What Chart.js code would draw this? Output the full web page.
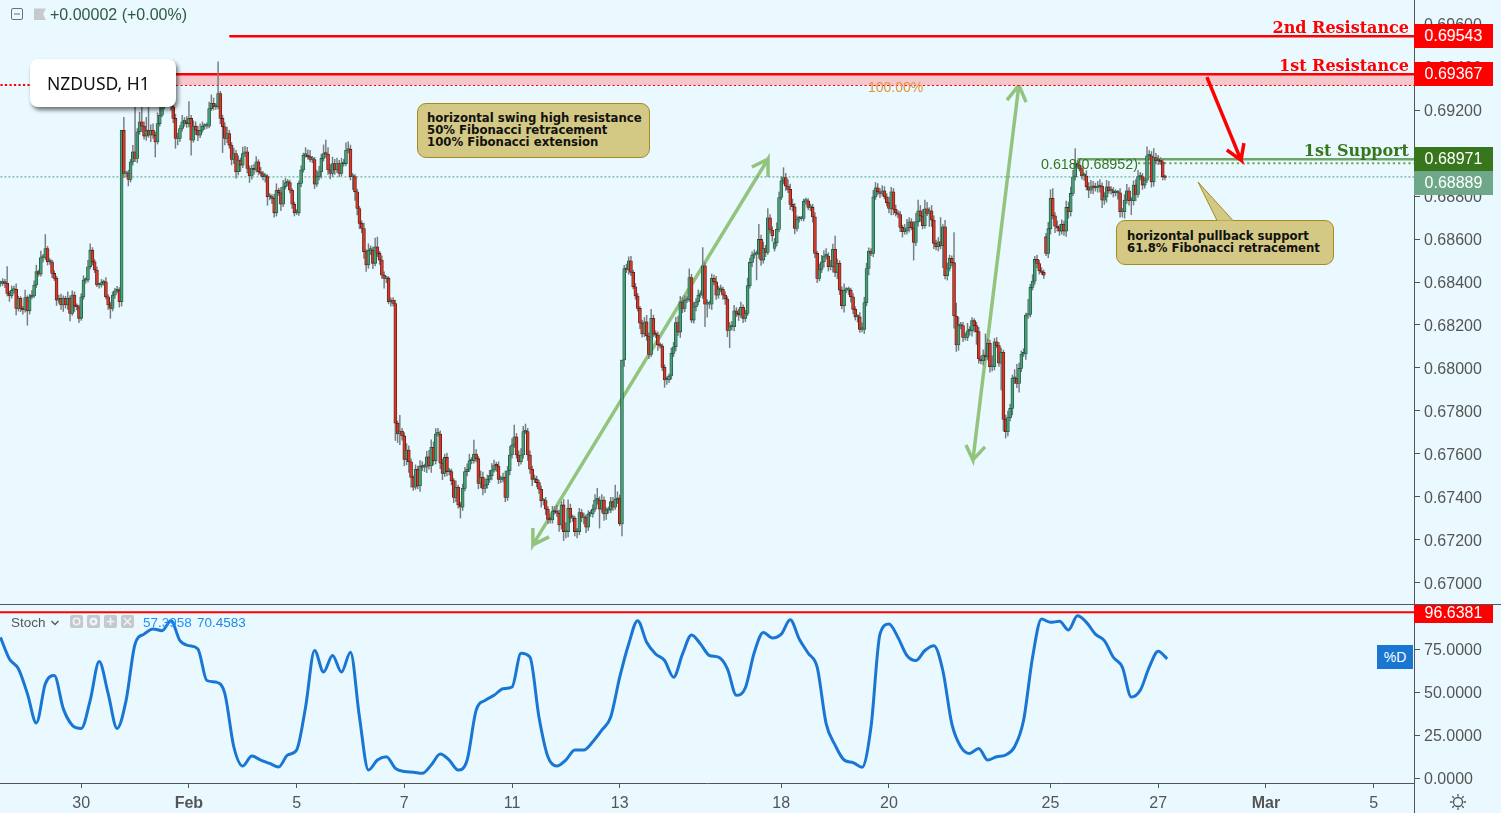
<!DOCTYPE html>
<html>
<head>
<meta charset="utf-8">
<title>NZDUSD, H1</title>
<script src="https://cdn.jsdelivr.net/npm/chart.js@4/dist/chart.umd.min.js"></script>
<style>
  html, body { margin: 0; padding: 0; background: #e9f9ff; overflow: hidden; }
  #stage { position: relative; width: 1501px; height: 813px; font-family: "Liberation Sans", Arial, sans-serif; }
  canvas { position: absolute; left: 0; }
  #priceChart { top: 0; }
  #stochChart { top: 604px; }
  .abs { position: absolute; white-space: nowrap; }
  .tag { position: absolute; left: 1414px; width: 79px; height: 24px; line-height: 24px; text-align: center; color: #fff; font-size: 16px; }
  .level { position: absolute; right: 92px; font: bold 16px "DejaVu Serif", serif; white-space: nowrap; }
  .callout { position: absolute; box-sizing: border-box; background: #d4c885; border: 1px solid #a58b1e; border-radius: 9px; color: #111;
             font: bold 11.7px/12px "DejaVu Sans", sans-serif; padding-left: 9px; white-space: pre; }
  .tail { position: absolute; }
  .rule { position: absolute; background: #555; }
  #nameBox { left: 30px; top: 59px; width: 146px; height: 48px; box-sizing: border-box; padding-left: 17px; background: #fff; border-radius: 8px;
             font: 17.5px/48px "Noto Sans", sans-serif; color: #111; box-shadow: 2px 3px 4px rgba(0,0,0,.55); }
</style>
</head>
<body>
<div id="stage">
  <canvas id="priceChart" width="1501" height="604"></canvas>
  <canvas id="stochChart" width="1501" height="209"></canvas>

  <div class="rule" style="left:0;top:604px;width:1501px;height:1px"></div>
  <div class="rule" style="left:1414px;top:0;width:1px;height:813px"></div>

  <svg class="abs" style="left:10px;top:7px" width="40" height="15">
    <rect x="1.5" y="1.5" width="11" height="11" rx="1.5" fill="none" stroke="#6a7076"/>
    <line x1="4" y1="7" x2="10" y2="7" stroke="#6a7076"/>
    <path d="M24 1.5H36L33 7L36 13H24Z" fill="#c6cacd"/>
  </svg>
  <div class="abs" style="left:50px;top:6px;font-size:16px;color:#2d5a42">+0.00002 (+0.00%)</div>

  <div class="abs" id="nameBox">NZDUSD, H1</div>

  <div class="level" style="top:18px;color:#f00">2nd Resistance</div>
  <div class="level" style="top:56px;color:#f00">1st Resistance</div>
  <div class="level" style="top:141px;color:#38761d">1st Support</div>

  <div class="abs" style="left:868px;top:79px;font-size:14px;color:#e69138">100.00%</div>
  <div class="abs" style="left:1041px;top:156px;font-size:14.3px;color:#38761d">0.618(0.68952)</div>

  <div class="callout" style="left:417px;top:103px;width:233px;height:55px;padding-top:8px">horizontal swing high resistance
50% Fibonacci retracement
100% Fibonacci extension</div>

  <svg class="tail" style="left:1190px;top:175px" width="60" height="50">
    <path d="M8 7L27 45.5H43Z" fill="#d4c885" stroke="#a58b1e"/>
  </svg>
  <div class="callout" style="left:1116px;top:220px;width:218px;height:45px;padding-top:9px;padding-left:10px">horizontal pullback support
61.8% Fibonacci retracement</div>
  <svg class="tail" style="left:1190px;top:219px" width="60" height="4">
    <path d="M27 2.5H43" stroke="#d4c885" stroke-width="2"/>
  </svg>

  <div class="tag" style="top:24px;background:#f00">0.69543</div>
  <div class="tag" style="top:62px;background:#f00">0.69367</div>
  <div class="tag" style="top:147px;background:#38761d">0.68971</div>
  <div class="tag" style="top:171px;background:#6fa888">0.68889</div>
  <div class="tag" style="top:605px;height:18px;line-height:16px;background:#f00">96.6381</div>
  <div class="abs" style="left:1377px;top:645px;width:36px;height:24px;line-height:24px;text-align:center;background:#1976d2;color:#fff;font-size:14px">%D</div>

  <div class="abs" style="left:11px;top:615px;font-size:13.5px;color:#555">Stoch</div>
  <svg class="abs" style="left:50px;top:619px" width="10" height="8"><path d="M1.5 2L5 5.5L8.5 2" fill="none" stroke="#555" stroke-width="1.3"/></svg>
  <svg class="abs" style="left:70px;top:615px" width="65" height="13">
    <g fill="#c4c9cc"><rect width="13" height="13" rx="2"/><rect x="17" width="13" height="13" rx="2"/><rect x="34" width="13" height="13" rx="2"/><rect x="51" width="13" height="13" rx="2"/></g>
    <g fill="none" stroke="#eef4f6" stroke-width="1.6">
      <circle cx="6.5" cy="6.5" r="3.2"/><circle cx="23.5" cy="6.5" r="2.8" stroke-width="2.4"/>
      <path d="M40.5 2.5V10.500M36.500 6.500H44.500M54 3L61 10M61 3L54 10"/>
    </g>
  </svg>
  <div class="abs" style="left:143px;top:615px;font-size:13.5px;color:#1e90ff">57.3958</div>
  <div class="abs" style="left:197px;top:615px;font-size:13.5px;color:#1e88e5">70.4583</div>

  <svg class="abs" style="left:1449px;top:793px" width="18" height="18">
    <circle cx="9" cy="9" r="4.5" fill="none" stroke="#555" stroke-width="1.3"/>
    <path d="M9 1V3.5M9 14.5V17M1 9H3.5M14.5 9H17M3.3 3.3L5 5M13 13L14.7 14.7M3.3 14.7L5 13M13 5L14.7 3.3" stroke="#555" stroke-width="1.3"/>
  </svg>
</div>

<script>
  /* ---------- Dados (preço em 0.00001) ---------- */
  const closes = [
    68394,68401,68394,68347,68335,68362,68366,68277,68324,68277,68270,68328,68266,68331,68335,68386,68448,68437,68514,68514,
    68556,68494,68494,68440,68417,68316,68324,68293,68324,68293,68324,68254,68339,68288,68285,68231,68331,68409,68409,68471,
    68548,68494,68456,68386,68386,68397,68401,68331,68293,68277,68339,68359,68362,68308,69106,68905,68905,68877,68959,69006,
    68975,69099,69145,69125,69079,69106,69083,69106,69083,69052,69137,69176,69215,69246,69261,69269,69215,69161,69068,69068,
    69114,69145,69145,69137,69161,69060,69125,69106,69083,69106,69125,69125,69125,69207,69231,69215,69215,69277,69161,69122,
    69068,69091,69037,68970,68998,68913,68967,68944,68998,69006,68928,68893,68928,68921,68959,68913,68905,68890,68890,68797,
    68797,68789,68722,68827,68815,68762,68843,68862,68862,68827,68762,68722,68722,68859,68921,68990,68990,68983,68970,68970,
    68855,68890,68913,68975,68998,68995,68921,68905,68951,68921,68951,68905,68951,68951,69013,69017,68890,68890,68820,68742,
    68673,68649,68541,68479,68548,68548,68487,68564,68533,68502,68432,68417,68417,68308,68316,68300,67743,67693,67707,67684,
    67575,67618,67564,67491,67445,67529,67451,67544,67538,67538,67587,67544,67631,67569,67693,67693,67557,67510,67584,67518,
    67518,67476,67398,67445,67363,67352,67440,67518,67529,67569,67569,67600,67578,67463,67491,67440,67456,67482,67499,67525,
    67546,67544,67482,67482,67491,67398,67522,67595,67642,67680,67595,67564,67595,67704,67704,67595,67529,67482,67482,67467,
    67436,67383,67383,67343,67296,67293,67332,67336,67324,67270,67363,67239,67239,67347,67301,67301,67239,67239,67327,67305,
    67305,67259,67321,67321,67343,67386,67386,67343,67386,67321,67339,67339,67378,67352,67389,67394,67274,68037,68463,68456,
    68499,68445,68378,68335,68277,68208,68158,68215,68149,68063,68231,68161,68153,68107,68102,68003,67944,67944,67963,68068,
    68099,68211,68167,68308,68277,68316,68319,68421,68223,68285,68308,68339,68339,68475,68297,68297,68297,68417,68401,68339,
    68366,68366,68339,68321,68175,68192,68192,68266,68254,68246,68282,68231,68254,68383,68491,68525,68530,68530,68598,68502,
    68556,68538,68699,68642,68614,68583,68645,68793,68871,68886,68846,68831,68761,68750,68649,68693,68696,68696,68776,68778,
    68747,68747,68703,68533,68417,68459,68494,68521,68521,68471,68471,68552,68445,68487,68362,68290,68362,68362,68362,68331,
    68273,68238,68238,68180,68180,68304,68463,68544,68533,68796,68838,68820,68812,68824,68796,68769,68742,68820,68738,68722,
    68714,68654,68634,68638,68652,68680,68652,68584,68680,68731,68707,68662,68741,68719,68731,68688,68580,68564,68587,68569,
    68657,68429,68463,68510,68490,68242,68107,68197,68197,68142,68142,68173,68173,68220,68197,68169,68042,68034,68060,68052,
    68115,68006,68006,68122,68104,68022,68073,67761,67704,67769,67812,67952,67952,67928,67998,68065,68065,68246,68249,68375,
    68404,68505,68486,68452,68445,68432,68533,68648,68789,68708,68660,68652,68637,68669,68637,68747,68727,68812,68889,68951,
    68944,68928,68893,68893,68843,68827,68843,68840,68838,68843,68846,68781,68796,68843,68824,68824,68815,68815,68815,68727,
    68727,68781,68824,68778,68778,68851,68807,68890,68890,68851,68874,68987,68987,68866,68979,68964,68964,68959,68890,68887
  ];
  // abertura = fechamento anterior, exceto nos gaps
  const gapOpenBars = [345, 466];
  const gapOpenValues = [68556, 68611];
  const upperWicks = [
    10,15,12,78,10,20,15,25,10,8,10,35,8,12,25,20,30,8,30,15,
    65,10,15,8,12,10,15,20,12,10,30,12,20,15,10,8,15,20,10,30,
    30,12,10,15,8,15,8,20,10,12,15,12,18,12,0,60,10,15,12,30,
    209,15,45,90,20,60,108,25,30,15,50,60,40,20,20,10,20,15,20,25,
    15,30,20,25,78,15,25,20,20,30,20,12,15,30,40,25,15,147,10,15,
    20,30,15,12,25,15,20,10,30,25,20,12,15,20,25,10,20,10,15,10,
    15,10,20,30,10,25,30,20,15,12,8,10,15,12,20,10,35,25,30,15,
    10,30,25,20,40,62,30,25,30,20,25,15,25,20,35,35,20,15,10,12,
    10,12,25,10,30,20,15,40,45,10,20,15,10,8,10,12,15,10,73,12,
    15,30,20,12,8,20,15,25,20,15,25,30,35,25,25,26,15,20,15,20,
    15,12,10,30,10,12,20,20,25,30,15,65,20,10,30,25,30,20,25,30,
    25,15,20,15,20,30,20,40,30,54,15,20,30,25,35,15,20,15,20,15,
    12,15,10,15,12,10,25,20,25,15,15,25,42,40,20,15,10,15,20,15,
    20,12,15,15,20,25,54,15,25,15,10,15,20,20,66,30,15,0,15,20,
    18,20,10,15,12,10,15,20,30,15,42,15,12,15,10,10,12,15,10,25,
    20,25,30,25,20,20,15,40,15,20,15,25,20,85,15,20,15,20,15,25,
    15,20,10,15,10,20,25,25,15,20,25,12,15,35,20,15,20,15,70,20,
    30,15,43,15,15,20,30,25,20,46,20,30,25,25,15,15,10,10,10,12,
    10,15,15,20,10,25,30,25,35,15,30,25,62,20,12,15,30,12,15,10,
    15,12,10,20,30,25,25,15,12,30,25,20,15,25,20,15,25,20,15,20,
    10,15,10,30,40,20,15,30,40,50,25,30,40,30,15,25,20,15,20,113,
    10,30,25,15,12,140,60,40,15,15,20,35,20,15,10,15,20,15,25,98,
    20,15,50,15,20,15,20,10,20,30,20,15,40,65,25,15,25,10,70,15,
    30,15,20,15,15,10,15,30,40,46,15,25,15,20,15,30,25,30,30,70,
    15,20,10,15,25,20,30,25,20,25,30,15,20,30,25,20,15,15,12,20,
    15,25,30,15,15,20,25,30,20,15,12,42,25,20,42,20,25,15,12,8
  ];
  const lowerWicks = [
    15,10,20,12,25,10,15,30,12,15,20,10,67,15,10,8,12,10,10,20,
    10,15,12,20,10,25,15,20,30,15,20,35,10,25,15,20,10,12,15,10,
    10,15,12,8,15,10,12,10,20,46,12,15,10,25,20,20,15,30,12,15,
    15,20,12,25,15,20,10,30,15,70,10,12,8,10,8,10,15,20,46,30,
    15,12,20,18,15,70,10,20,25,12,10,15,10,8,10,15,12,10,25,120,
    30,20,15,25,20,30,15,30,12,15,20,30,15,20,10,15,12,15,25,40,
    15,25,20,15,12,30,12,10,15,12,20,15,8,12,15,10,10,12,10,15,
    20,10,15,30,12,15,20,25,15,20,12,15,10,12,10,12,15,60,40,30,
    25,20,30,30,15,20,25,12,15,20,15,46,20,10,20,12,80,40,50,20,
    30,25,50,45,15,10,12,25,15,20,25,15,30,20,15,10,25,30,15,20,
    15,20,25,20,15,50,15,12,20,10,15,12,15,25,20,30,20,15,15,20,
    10,25,20,15,12,20,15,20,15,12,15,20,12,15,10,25,20,30,15,20,
    20,30,20,25,20,15,15,12,15,30,20,42,30,25,20,15,20,30,15,20,
    30,25,15,12,15,10,20,88,15,30,25,15,12,15,10,20,8,55,30,12,
    20,15,10,15,12,25,15,12,20,20,10,15,12,25,10,15,34,20,12,15,
    15,20,15,25,20,15,12,10,12,15,20,15,10,15,105,60,20,25,15,20,
    15,12,20,25,30,80,15,20,15,25,12,20,15,10,12,20,15,120,20,25,
    15,20,10,15,25,12,15,12,10,15,20,15,25,20,25,12,15,10,12,15,
    10,15,25,20,20,12,15,25,15,20,15,25,20,30,20,15,30,12,20,25,
    20,15,25,15,12,20,15,30,10,15,12,15,20,12,10,15,20,30,25,15,
    15,20,25,12,15,20,10,82,15,20,25,15,12,10,60,30,25,15,20,15,
    102,15,20,12,15,57,30,25,15,20,12,15,20,25,30,59,20,15,20,15,
    15,25,20,15,10,15,124,55,30,20,15,30,25,20,40,15,12,25,15,12,
    12,15,20,15,10,15,10,20,25,15,30,15,20,15,20,25,30,20,10,15,
    15,12,15,20,15,35,15,30,15,20,25,35,20,25,12,15,20,15,30,25,
    25,30,15,20,65,20,30,12,15,20,15,12,15,25,20,15,18,12,15,12
  ];

  // %D lido a cada 4 barras
  const stochEvery = 4;
  const stochD = [
    82.1,69.6,63.9,49.5,32.5,55.2,60,40.8,31.2,29.3,45.6,68.1,49.5,29.3,45.6,78.3,84,87,86,91.8,
    80.2,77.3,75.4,57.1,56.2,49.5,18.7,7.5,13.3,11,9,7,13.9,16.8,41.8,74.5,62,71.6,62,73.5,
    36,5.2,11,12.9,6.2,4.3,3.9,3.3,8.1,14.5,11,5.2,11,39.8,45.6,48.5,52.3,53.3,72.9,70.6,
    36,12.9,7.5,11,16.8,16.8,21.6,28.3,36,59,78.3,91.8,79.3,72.5,68.7,59,72.5,83.5,78.3,71.6,
    70.6,63.9,48.5,52.9,73.5,85,81.8,84,92.3,81.2,72.9,64.8,32.1,19.6,11,9.5,6.8,30.2,84,89.8,
    82.1,71.6,68.7,74.5,77.3,62.9,32.1,18.7,14.8,17.7,11,12.9,13.9,18.7,34.1,70.6,92.7,90.8,91.4,86.4,
    94.6,90.8,84,80.2,70.6,64.8,47.5,51.4,64.8,74.1,69.6
  ];

  const priceTicks = [0.696,0.694,0.692,0.690,0.688,0.686,0.684,0.682,0.680,0.678,0.676,0.674,0.672,0.670];
  const stochTicks = [0,25,50,75];
  const dateTickBars = [36,84,132,180,228,276,348,396,468,516,564,612];
  const dateTickLabels = ['30','Feb','5','7','11','13','18','20','25','27','Mar','5'];

  const resistance2 = 0.69543, resistance1 = 0.69367, fib100 = 0.69316;
  const support1 = 0.68971, fib618 = 0.68952, lastPrice = 0.68889, stochLevel = 96.6381;

  // setas: [barra, preço]
  const redArrow = [[537.7,0.69353],[552.9,0.68967],[546.6,0.69014],[552.9,0.68967],[554.2,0.69046]];
  const greenArrowA = [[334.9,0.68935],[342.1,0.68972],[342.1,0.68888],[342.1,0.68972],[237.3,0.67177],[237.3,0.67256],[237.3,0.67177],[244.5,0.67214]];
  const greenArrowB = [[448.6,0.69246],[453.9,0.69316],[457.1,0.69237],[453.9,0.69316],[433.4,0.67572],[430.3,0.67642],[433.4,0.67572],[438.8,0.67633]];

  const LAST_BAR = 630;  // borda direita do painel

  /* ---------- Candles ---------- */
  const opens = closes.map((c, i) => {
    const g = gapOpenBars.indexOf(i);
    if (g >= 0) return gapOpenValues[g];
    return i ? closes[i - 1] : c;
  });
  const bodies = closes.map((c, i) => ({ x: i, y: [opens[i] / 1e5, c / 1e5] }));
  const wicks = closes.map((c, i) => ({
    x: i,
    y: [(Math.min(opens[i], c) - (lowerWicks[i] || 0)) / 1e5, (Math.max(opens[i], c) + (upperWicks[i] || 0)) / 1e5]
  }));
  const isUp = closes.map((c, i) => c >= opens[i]);

  function hLine(value, from, color, width, dash, offset) {
    return {
      type: 'line', order: 3, data: [{ x: from, y: value }, { x: LAST_BAR, y: value }],
      borderColor: color, borderWidth: width, borderDash: dash || [], borderDashOffset: offset || 0,
      pointRadius: 0, fill: false
    };
  }
  function arrow(points, color, order) {
    return {
      type: 'line', order, data: points.map(p => ({ x: p[0], y: p[1] })),
      borderColor: color, borderWidth: 3.5, borderJoinStyle: 'miter', pointRadius: 0, fill: false
    };
  }
  // sem margem extra para os rótulos: o painel ocupa toda a altura
  function noPadding(s) { s.paddingTop = s.paddingBottom = s.paddingLeft = s.paddingRight = 0; }

  const baseOptions = { responsive: false, animation: false, devicePixelRatio: 1, events: [],
    plugins: { legend: { display: false }, tooltip: { enabled: false } } };
  const axisFont = { family: '"Liberation Sans", Arial, sans-serif', size: 16 };

  new Chart(document.getElementById('priceChart'), {
    type: 'bar',
    data: {
      datasets: [
        { order: 1, data: bodies, grouped: false, barThickness: 3, minBarLength: 1.6, borderWidth: 0.8, borderSkipped: false,
          backgroundColor: isUp.map(u => u ? '#4b9a78' : '#d23a2b'),
          borderColor: isUp.map(u => u ? '#1c5a3c' : '#5e1a12') },
        { order: 2, data: wicks, grouped: false, barThickness: 0.8, backgroundColor: '#777c80', borderWidth: 0 },
        // faixa de resistência
        Object.assign(hLine(resistance1, 70, '#f00', 2.5), { fill: '+1', backgroundColor: '#f5c6cc' }),
        hLine(fib100, 70, 'rgba(0,0,0,0)', 0),
        hLine(fib100, 0, '#f00', 2, [2.2, 2.3]),
        hLine(fib100, 412, '#e69138', 2, [2.2, 2.3], 2.2),
        hLine(resistance2, 102, '#f00', 2.5),
        hLine(support1, 480, '#6fa56a', 2.5),
        hLine(fib618, 507, '#6aa84f', 2, [2.2, 3]),
        hLine(lastPrice, 0, '#4f9d78', 1, [2, 2]),
        arrow(greenArrowA, '#93c47d', 3),
        arrow(greenArrowB, '#93c47d', 3),
        arrow(redArrow, '#f00', 0)
      ]
    },
    options: Object.assign({}, baseOptions, {
      layout: { padding: 0 },
      scales: {
        x: { type: 'linear', display: false, min: -0.2, max: LAST_BAR, offset: false, grid: { display: false } },
        y: {
          position: 'right', min: 0.66902, max: 0.69712,
          afterBuildTicks: s => { s.ticks = priceTicks.map(v => ({ value: v })); },
          afterFit: s => { s.width = 87; noPadding(s); },
          border: { color: '#555' },
          grid: { drawOnChartArea: false, tickLength: 6, color: '#555' },
          ticks: { color: '#555', font: axisFont, padding: 4, labelOffset: 2, callback: v => v.toFixed(5) }
        }
      }
    })
  });

  new Chart(document.getElementById('stochChart'), {
    type: 'line',
    data: {
      datasets: [
        { order: 2, data: [{ x: -0.2, y: stochLevel }, { x: LAST_BAR, y: stochLevel }], borderColor: '#f00', borderWidth: 2, pointRadius: 0 },
        { order: 1, data: stochD.map((v, n) => ({ x: n * stochEvery, y: v })), borderColor: '#1976d2', borderWidth: 3,
          pointRadius: 0, cubicInterpolationMode: 'monotone' }
      ]
    },
    options: Object.assign({}, baseOptions, {
      layout: { padding: 0 },
      scales: {
        x: {
          type: 'linear', min: -0.2, max: LAST_BAR,
          afterBuildTicks: s => { s.ticks = dateTickBars.map(v => ({ value: v })); },
          afterFit: s => { s.height = 30; noPadding(s); },
          border: { color: '#555' },
          grid: { drawOnChartArea: false, tickLength: 5, color: '#555' },
          ticks: {
            color: '#555', padding: 6, maxRotation: 0, autoSkip: false,
            font: ctx => {
              const label = ctx.tick ? dateTickLabels[dateTickBars.indexOf(ctx.tick.value)] : '';
              return Object.assign({}, axisFont, { weight: (label === 'Feb' || label === 'Mar') ? 'bold' : 'normal' });
            },
            callback: v => dateTickLabels[dateTickBars.indexOf(v)]
          }
        },
        y: {
          position: 'right', min: -2.32, max: 101.45,
          afterBuildTicks: s => { s.ticks = stochTicks.map(v => ({ value: v })); },
          afterFit: s => { s.width = 87; noPadding(s); },
          border: { color: '#555' },
          grid: { drawOnChartArea: false, tickLength: 6, color: '#555' },
          ticks: { color: '#555', font: axisFont, padding: 4, labelOffset: 1, callback: v => v.toFixed(4) }
        }
      }
    })
  });
</script>
</body>
</html>
